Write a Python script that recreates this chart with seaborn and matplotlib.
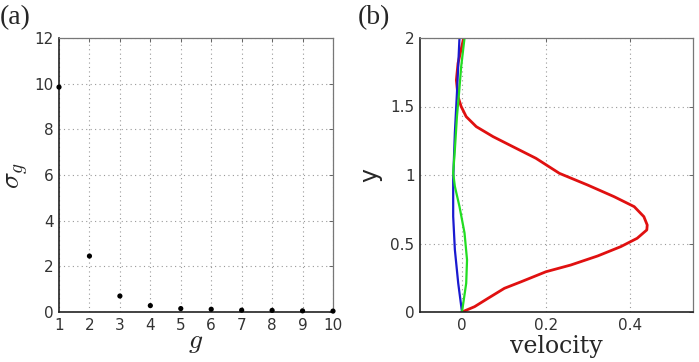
import matplotlib
matplotlib.use("Agg")
import matplotlib.pyplot as plt
import numpy as np
import pandas as pd
import seaborn as sns

# ~~~~~~~~~~~~~~~~~~~~~~~~~~~~~~~~~~~~~~~~~~~~~~~~~~~~~~~~~~~~~~~~~~~~~~~~~~~~~~~~
# Data
# ~~~~~~~~~~~~~~~~~~~~~~~~~~~~~~~~~~~~~~~~~~~~~~~~~~~~~~~~~~~~~~~~~~~~~~~~~~~~~~~~
g_vals = [1, 2, 3, 4, 5, 6, 7, 8, 9, 10]
sigma_g = [9.85, 2.45, 0.70, 0.28, 0.15, 0.12, 0.08, 0.07, 0.05, 0.04]

red_vel = [0.0, 0.03, 0.062, 0.101, 0.141, 0.2, 0.259, 0.323, 0.378, 0.417, 0.44,
           0.441, 0.433, 0.41, 0.362, 0.299, 0.232, 0.176, 0.121, 0.074, 0.034,
           0.01, -0.002, -0.0095, -0.0134, -0.0095, 0.004]
red_y = [0.0, 0.039, 0.1, 0.173, 0.221, 0.294, 0.343, 0.409, 0.477, 0.538, 0.599,
         0.635, 0.696, 0.769, 0.842, 0.927, 1.012, 1.122, 1.207, 1.28, 1.353,
         1.426, 1.5, 1.572, 1.693, 1.815, 2.0]

blue_vel = [0.0, -0.009, -0.017, -0.021, -0.021, -0.017, -0.012, -0.006]
blue_y = [0.0, 0.21, 0.455, 0.698, 0.966, 1.307, 1.6, 2.0]

green_vel = [0.0, 0.01, 0.012, 0.006, -0.006, -0.017, -0.021, -0.017, -0.012,
             -0.007, -0.002, 0.006]
green_y = [0.0, 0.21, 0.38, 0.577, 0.77, 0.917, 1.015, 1.185, 1.428, 1.6, 1.79, 2.0]

# ~~~~~~~~~~~~~~~~~~~~~~~~~~~~~~~~~~~~~~~~~~~~~~~~~~~~~~~~~~~~~~~~~~~~~~~~~~~~~~~~
sns.set_style("white")
plt.rcParams["font.family"] = ["DejaVu Sans"]
plt.rcParams["mathtext.fontset"] = "cm"

fig = plt.figure(figsize=(6.99, 3.62), dpi=100)
ax_a = fig.add_axes([59 / 699, 1 - 312 / 362, 274 / 699, 274 / 362])
ax_b = fig.add_axes([420 / 699, 1 - 312 / 362, 273 / 699, 274 / 362])

tick_col = "#333333"


def style_axes(ax):
    ax.grid(True, linestyle=(0, (1, 3)), color="#999999", linewidth=0.8)
    for side in ["left", "bottom"]:
        ax.spines[side].set_color("#222222")
        ax.spines[side].set_linewidth(1.2)
    for side in ["top", "right"]:
        ax.spines[side].set_color("#777777")
        ax.spines[side].set_linewidth(0.9)
    ax.tick_params(direction="in", length=3, width=0.6, colors="#555555",
                   labelcolor=tick_col, labelsize=11, top=True, right=True,
                   pad=4)


# --------------- (a) ---------------
df_a = pd.DataFrame({"g": g_vals, "sigma": sigma_g})
sns.scatterplot(data=df_a, x="g", y="sigma", ax=ax_a, color="black", s=14,
                edgecolor="none", clip_on=False, zorder=5)
ax_a.set_xlim(1, 10)
ax_a.set_ylim(0, 12)
ax_a.set_xticks(range(1, 11))
ax_a.set_yticks(range(0, 13, 2))
ax_a.set_xlabel(r"$g$", fontsize=20, labelpad=-4)
ax_a.set_ylabel(r"$\sigma_g$", fontsize=20, labelpad=2)
style_axes(ax_a)

# --------------- (b) ---------------
# profiles are functions of y, so no aggregation and keep y order
curves = [(red_vel, red_y, "#e01010", 2.0),
          (blue_vel, blue_y, "#1a1ad0", 1.6),
          (green_vel, green_y, "#22dd22", 1.6)]
for vel, yy, col, lw in curves:
    df_c = pd.DataFrame({"velocity": vel, "y": yy})
    sns.lineplot(data=df_c, x="velocity", y="y", orient="y", estimator=None,
                 ax=ax_b, color=col, linewidth=lw)
ax_b.set_xlim(-0.1, 0.55)
ax_b.set_ylim(0, 2)
ax_b.set_xticks([0, 0.2, 0.4])
ax_b.set_xticklabels(["0", "0.2", "0.4"])
ax_b.set_yticks([0, 0.5, 1, 1.5, 2])
ax_b.set_yticklabels(["0", "0.5", "1", "1.5", "2"])
ax_b.set_xlabel("velocity", fontsize=17, family="DejaVu Serif", labelpad=2)
ax_b.set_ylabel("y", fontsize=17, labelpad=6)
style_axes(ax_b)

fig.text(0.0, 0.985, "(a)", fontsize=20, family="Liberation Serif", va="top", ha="left")
fig.text(358 / 699, 0.985, "(b)", fontsize=20, family="Liberation Serif", va="top", ha="left")

fig.savefig("out.png", dpi=100)
